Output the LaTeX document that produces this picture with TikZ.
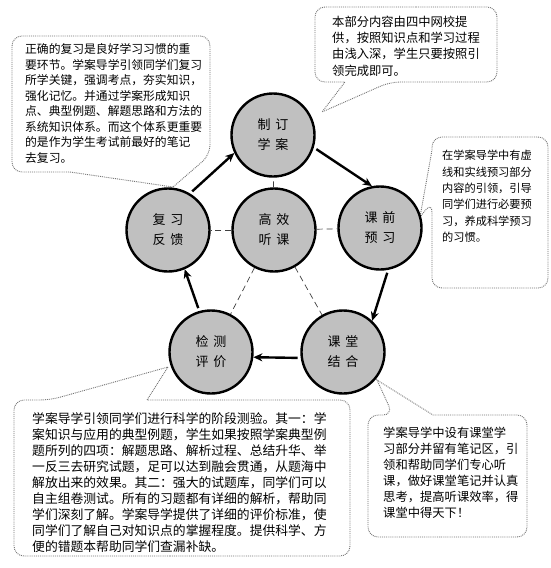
\documentclass[tikz,border=0pt]{standalone}
\usepackage{fontspec}
\newfontfamily\cjk{Noto Sans CJK SC}
\usetikzlibrary{arrows.meta}
\definecolor{silverc}{HTML}{C0C0C0}
\begin{document}
\begin{tikzpicture}[x=1pt,y=-1pt,
  stage/.style={circle, draw=black, line width=2.4pt, fill=silverc, minimum size=83pt, inner sep=0pt,
    font=\cjk\fontsize{13}{20}\selectfont, align=center},
  flow/.style={line width=2.4pt, -{Stealth[length=9pt,width=8pt]}, shorten <=3pt},
  link/.style={line width=0.7pt, draw=black!75, dash pattern=on 6pt off 4pt},
  callout/.style={draw=black!55, line width=0.9pt, densely dotted, fill=white, rounded corners=10pt},
  note/.style={anchor=north west, inner sep=0pt, align=left}]
\fill[white] (0,0) rectangle (551,568);
\useasboundingbox (0,0) rectangle (551,568);

% callouts
\draw[callout] (110,36) -- (210,36) -- (210,155) [sharp corners] -- (173,187) -- (70,172) [rounded corners=10pt] -- (12,172) -- (12,36) -- cycle;
\draw[callout] (406,7) -- (497,7) -- (497,82) -- (390,82) [sharp corners] -- (322,112) -- (345,82) [rounded corners=10pt] -- (315,82) -- (315,7) -- cycle;
\draw[callout] (490,137) -- (548,137) -- (548,288) -- (432,288) -- (432,202) [sharp corners] -- (420,217) -- (432,150) [rounded corners=10pt] -- (432,137) -- cycle;
\draw[callout] (180,556) -- (14,556) -- (14,400) -- (50,400) [sharp corners] -- (168,367) -- (147,400) [rounded corners=10pt] -- (350,400) -- (350,556) -- cycle;
\draw[callout] (450,537) -- (368,537) -- (368,415) -- (393,415) [sharp corners] -- (377,380) -- (433,415) [rounded corners=10pt] -- (527,415) -- (527,537) -- cycle;

% callout texts
\node[note, font=\cjk\fontsize{11.8}{15.5}\selectfont] (tTL) at (25,43.5) {正确的复习是良好学习习惯的重\\要环节。学案导学引领同学们复习\\所学关键，强调考点，夯实知识，\\强化记忆。并通过学案形成知识\\点、典型例题、解题思路和方法的\\系统知识体系。而这个体系更重要\\的是作为学生考试前最好的笔记\\去复习。};
\node[note, font=\cjk\fontsize{12.3}{16.3}\selectfont] (tTR) at (332,15.5) {本部分内容由四中网校提\\供，按照知识点和学习过程\\由浅入深，学生只要按照引\\领完成即可。};
\node[note, font=\cjk\fontsize{11.2}{16.4}\selectfont] (tR) at (442,150) {在学案导学中有虚\\线和实线预习部分\\内容的引领，引导\\同学们进行必要预\\习，养成科学预习\\的习惯。};
\node[note, font=\cjk\fontsize{12.8}{16}\selectfont] (tBL) at (32,412) {学案导学引领同学们进行科学的阶段测验。其一：学\\案知识与应用的典型例题，学生如果按照学案典型例\\题所列的四项：解题思路、解析过程、总结升华、举\\一反三去研究试题，足可以达到融会贯通，从题海中\\解放出来的效果。其二：强大的试题库，同学们可以\\自主组卷测试。所有的习题都有详细的解析，帮助同\\学们深刻了解。学案导学提供了详细的评价标准，使\\同学们了解自己对知识点的掌握程度。提供科学、方\\便的错题本帮助同学们查漏补缺。};
\node[note, font=\cjk\fontsize{12.3}{16}\selectfont] (tBR) at (383,427) {学案导学中设有课堂学\\习部分并留有笔记区，引\\领和帮助同学们专心听\\课，做好课堂笔记并认真\\思考，提高听课效率，得\\课堂中得天下！};

% stages
\node[stage] (plan) at (273,135) {制\hspace{5pt}订\\学\hspace{5pt}案};
\node[stage] (core) at (274,230) {高\hspace{5pt}效\\听\hspace{5pt}课};
\node[stage] (review) at (168,230) {复\hspace{5pt}习\\反\hspace{5pt}馈};
\node[stage] (prep) at (380,228) {课\hspace{5pt}前\\预\hspace{5pt}习};
\node[stage] (test) at (211,352) {检\hspace{5pt}测\\评\hspace{5pt}价};
\node[stage] (class) at (343,352) {课\hspace{5pt}堂\\结\hspace{5pt}合};

% dashed links
\draw[link] (core) -- (plan);
\draw[link] (core) -- (review);
\draw[link] (core) -- (prep);
\draw[link] (core) -- (test);
\draw[link] (core) -- (class);

% cycle arrows
\draw[flow] (review.59) -- (plan.205);
\draw[flow] (plan.-17) -- (prep.101);
\draw[flow] (prep.-79) -- (class.47);
\draw[flow] (class.188) -- (test.-7);
\draw[flow] (test.106) -- (review.-67);
\end{tikzpicture}
\end{document}
